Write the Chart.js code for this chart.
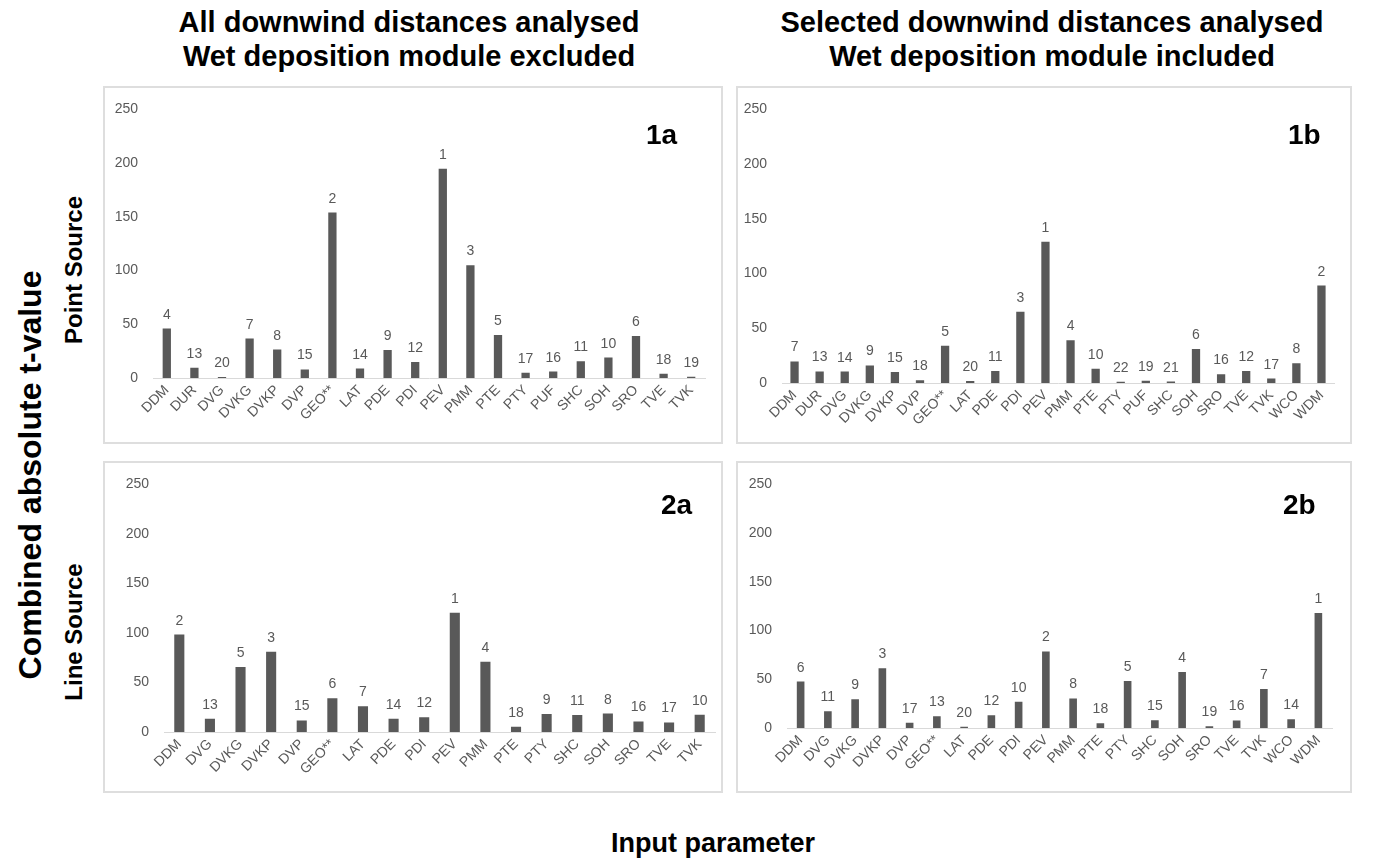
<!DOCTYPE html>
<html>
<head>
<meta charset="utf-8">
<script src="https://cdn.jsdelivr.net/npm/chart.js@4.4.0/dist/chart.umd.min.js"></script>
<style>
  html, body { margin:0; padding:0; background:#ffffff; }
  body { width:1380px; height:862px; position:relative; overflow:hidden; font-family:'Liberation Sans', Arial, sans-serif; }
  .abs { position:absolute; white-space:nowrap; }
  .title { font-weight:bold; font-size:29px; line-height:29px; color:#000; transform:translateX(-50%); }
  .vlab { font-weight:bold; color:#000; transform:translate(-50%,-50%) rotate(-90deg); }
  .plab { font-weight:bold; font-size:28px; line-height:28px; color:#000; }
  .box { position:absolute; box-sizing:border-box; border:2px solid #dedede; }
  .cw { position:absolute; }
</style>
</head>
<body>
<div class="abs title" style="left:409px; top:8px;">All downwind distances analysed</div>
<div class="abs title" style="left:409px; top:42px;">Wet deposition module excluded</div>
<div class="abs title" style="left:1052px; top:8px;">Selected downwind distances analysed</div>
<div class="abs title" style="left:1052px; top:42px;">Wet deposition module included</div>
<div class="abs vlab" style="left:30px; top:475px; font-size:32px;">Combined absolute t-value</div>
<div class="abs vlab" style="left:74px; top:270px; font-size:24px;">Point Source</div>
<div class="abs vlab" style="left:74px; top:632px; font-size:24px;">Line Source</div>
<div class="abs title" style="left:713px; top:829px; font-size:27px;">Input parameter</div>

<script>
// ---------- DATA ----------
const cat1a  = ['DDM','DUR','DVG','DVKG','DVKP','DVP','GEO**','LAT','PDE','PDI','PEV','PMM','PTE','PTY','PUF','SHC','SOH','SRO','TVE','TVK'];
const val1a  = [46, 9.6, 0.9, 36.7, 26.5, 8, 154, 8.8, 26, 15, 194.7, 105, 40, 5, 6, 15.5, 19, 39, 4, 1.2];
const rank1a = [4, 13, 20, 7, 8, 15, 2, 14, 9, 12, 1, 3, 5, 17, 16, 11, 10, 6, 18, 19];

const cat1b  = ['DDM','DUR','DVG','DVKG','DVKP','DVP','GEO**','LAT','PDE','PDI','PEV','PMM','PTE','PTY','PUF','SHC','SOH','SRO','TVE','TVK','WCO','WDM'];
const val1b  = [19.7, 10.6, 10.5, 16, 10, 2.4, 34, 1.8, 11, 65, 129, 39, 13, 1.1, 2.0, 1.3, 31, 8, 10.9, 4, 18, 89];
const rank1b = [7, 13, 14, 9, 15, 18, 5, 20, 11, 3, 1, 4, 10, 22, 19, 21, 6, 16, 12, 17, 8, 2];

const cat2a  = ['DDM','DVG','DVKG','DVKP','DVP','GEO**','LAT','PDE','PDI','PEV','PMM','PTE','PTY','SHC','SOH','SRO','TVE','TVK'];
const val2a  = [98.4, 13.4, 65.7, 81, 11.7, 34, 26, 13.3, 15, 120.5, 71, 5.4, 18.3, 17.2, 18.6, 10.7, 9.7, 17.4];
const rank2a = [2, 13, 5, 3, 15, 6, 7, 14, 12, 1, 4, 18, 9, 11, 8, 16, 17, 10];

const cat2b  = ['DDM','DVG','DVKG','DVKP','DVP','GEO**','LAT','PDE','PDI','PEV','PMM','PTE','PTY','SHC','SOH','SRO','TVE','TVK','WCO','WDM'];
const val2b  = [47.6, 17.2, 29.4, 61.4, 5.4, 12.1, 1.4, 13, 27, 78.6, 30.4, 5, 48.3, 8, 57.4, 1.8, 7.8, 39.9, 9, 118];
const rank2b = [6, 11, 9, 3, 17, 13, 20, 12, 10, 2, 8, 18, 5, 15, 4, 19, 16, 7, 14, 1];

const yTicks = [0, 50, 100, 150, 200, 250];
const panelNames = ['1a', '1b', '2a', '2b'];

// ---------- LAYOUT ----------
const GRAY = '#595959';
const FONT = "'Liberation Sans', Arial, sans-serif";
Chart.defaults.font.family = FONT;
Chart.defaults.color = GRAY;

const rankPlugin = {
  id: 'ranks',
  afterDatasetsDraw(chart) {
    const ds = chart.data.datasets[0];
    const meta = chart.getDatasetMeta(0);
    const ctx = chart.ctx;
    ctx.save();
    ctx.font = '14px ' + FONT;
    ctx.fillStyle = GRAY;
    ctx.textAlign = 'center';
    ctx.textBaseline = 'alphabetic';
    meta.data.forEach((bar, i) => {
      ctx.fillText(String(ds.ranks[i]), bar.x, bar.y - 10);
    });
    ctx.restore();
  }
};

function panel(name, box, area, labels, values, ranks, barPct, labelPos) {
  const frame = document.createElement('div');
  frame.className = 'box';
  Object.assign(frame.style, { left: box.x + 'px', top: box.y + 'px', width: box.w + 'px', height: box.h + 'px' });
  document.body.appendChild(frame);

  const wrap = document.createElement('div');
  wrap.className = 'cw';
  Object.assign(wrap.style, { left: box.x + 'px', top: box.y + 'px', width: box.w + 'px', height: box.h + 'px' });
  const cv = document.createElement('canvas');
  wrap.appendChild(cv);
  document.body.appendChild(wrap);

  const pl = document.createElement('div');
  pl.className = 'abs plab';
  pl.textContent = name;
  Object.assign(pl.style, { left: labelPos[0] + 'px', top: labelPos[1] + 'px' });
  document.body.appendChild(pl);

  const yW = area.left - box.x;
  const xH = (box.y + box.h) - area.bottom;
  new Chart(cv.getContext('2d'), {
    type: 'bar',
    data: {
      labels: labels,
      datasets: [{ data: values, ranks: ranks, backgroundColor: GRAY, borderWidth: 0,
                   barPercentage: barPct, categoryPercentage: 1 }]
    },
    options: {
      responsive: true, maintainAspectRatio: false, animation: false, devicePixelRatio: 1,
      layout: { padding: { left: 0, top: area.top - box.y, right: (box.x + box.w) - area.right, bottom: 0 } },
      plugins: { legend: { display: false }, tooltip: { enabled: false }, title: { display: false } },
      scales: {
        x: {
          grid: { display: false, drawTicks: false },
          border: { display: true, color: '#d9d9d9', width: 1 },
          ticks: { autoSkip: false, maxRotation: 45, minRotation: 45, padding: 4,
                   font: { size: 14 }, color: GRAY },
          afterFit: s => { s.height = xH; }
        },
        y: {
          min: 0, max: 250,
          grid: { display: false, drawTicks: false },
          border: { display: false },
          afterBuildTicks: s => { s.ticks = yTicks.map(v => ({ value: v })); },
          ticks: { padding: 15, font: { size: 14 }, color: GRAY },
          afterFit: s => { s.width = yW; }
        }
      }
    },
    plugins: [rankPlugin]
  });
}

panel(panelNames[0], { x: 103, y: 86, w: 620, h: 358 }, { left: 153, right: 705, top: 108, bottom: 378 },
      cat1a, val1a, rank1a, 0.30, [646, 121]);
panel(panelNames[1], { x: 736, y: 86, w: 616, h: 358 }, { left: 782, right: 1334, top: 106, bottom: 383 },
      cat1b, val1b, rank1b, 0.33, [1288, 121]);
panel(panelNames[2], { x: 103, y: 461, w: 620, h: 332 }, { left: 164, right: 715, top: 481, bottom: 732 },
      cat2a, val2a, rank2a, 0.33, [661, 491]);
panel(panelNames[3], { x: 736, y: 461, w: 616, h: 332 }, { left: 787, right: 1332, top: 481, bottom: 728 },
      cat2b, val2b, rank2b, 0.28, [1283, 491]);
</script>
</body>
</html>
